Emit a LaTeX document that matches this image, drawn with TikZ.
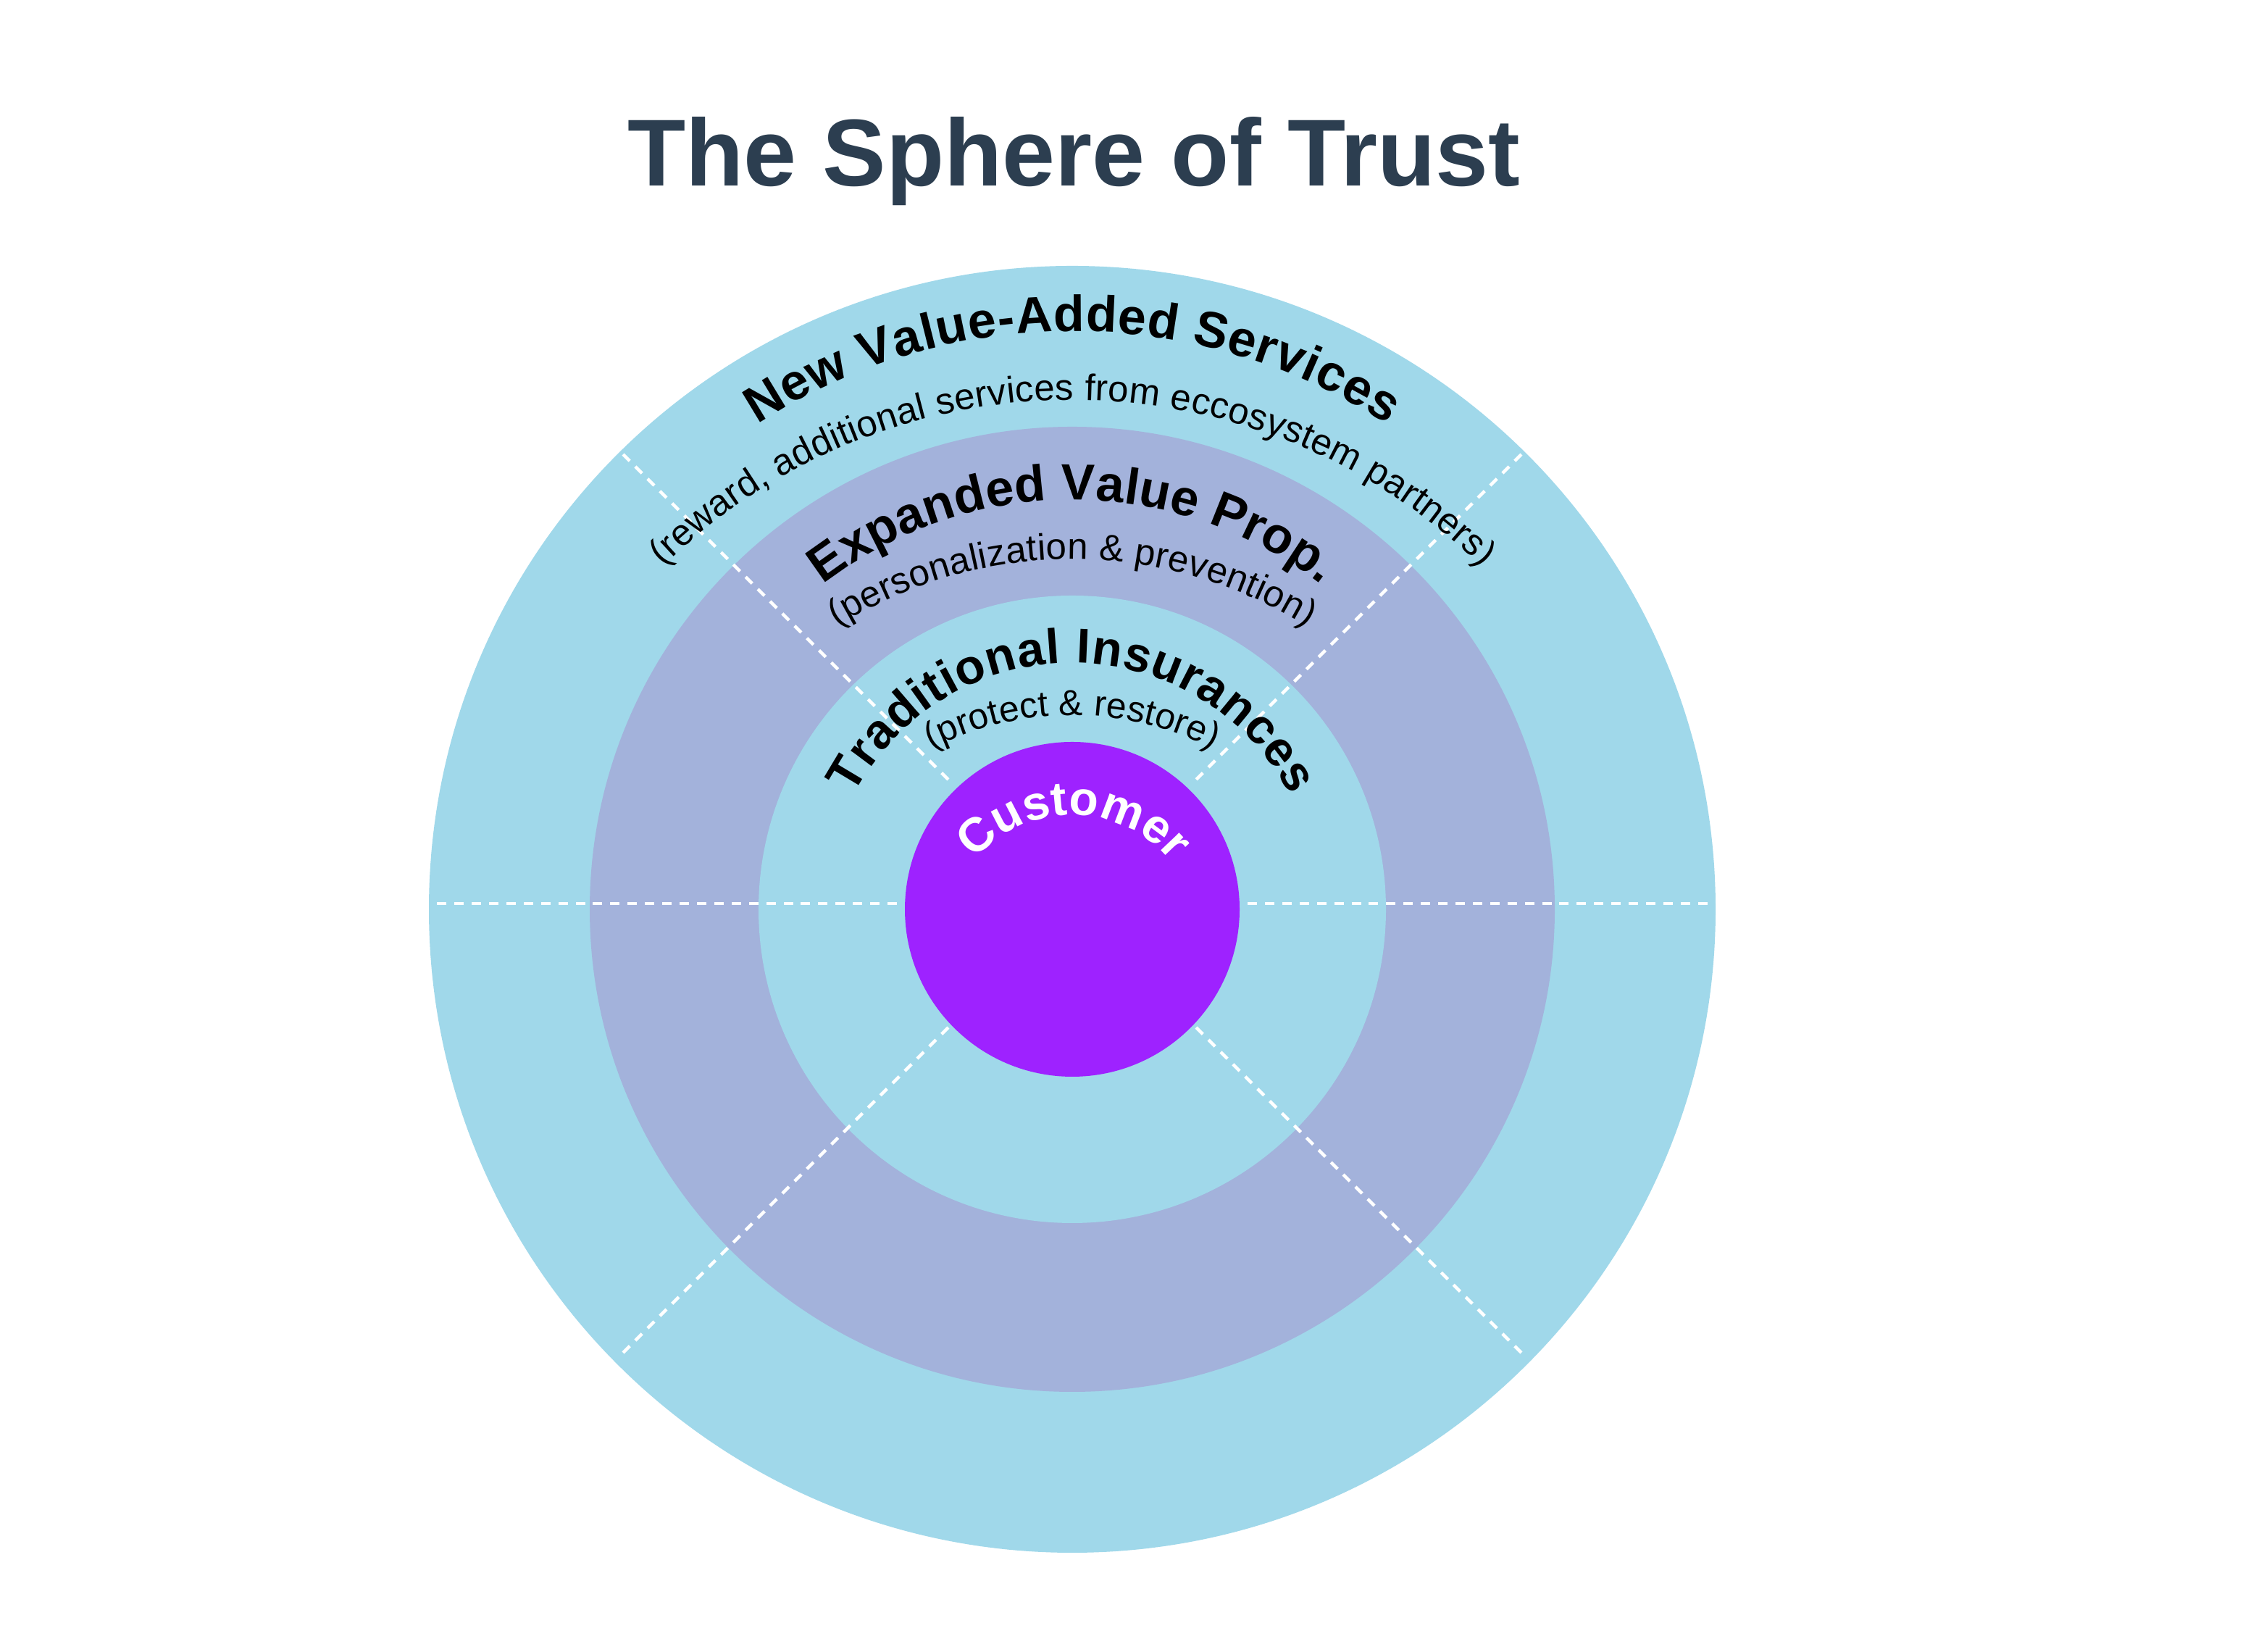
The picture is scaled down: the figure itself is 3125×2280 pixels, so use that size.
\documentclass[tikz,border=0pt]{standalone}
\usepackage{fontspec}
\setmainfont{Liberation Sans}
\usetikzlibrary{decorations.text}
\definecolor{ringblue}{HTML}{A0D8EA}
\definecolor{ringlav}{HTML}{A3B2DB}
\definecolor{corepurple}{HTML}{9E22FF}
\definecolor{titlecol}{HTML}{2C3E50}
\begin{document}
\begin{tikzpicture}[x=0.01cm, y=0.01cm,
  dashline/.style={draw=white, line width=1.28pt, dash pattern=on 3.7pt off 3.1pt},
  arctext/.style={decorate, decoration={text along path, text align={fit to path}, text={#1}}}]
\useasboundingbox (0,0) rectangle (3125,2280);
\fill[white] (0,0) rectangle (3125,2280);
% centres
\coordinate (C) at (1480,1025);
\coordinate (L) at (1480,1033);
\coordinate (C2) at (1480,919);
\coordinate (C4) at (1480,896);
\coordinate (C6) at (1480,865);
\coordinate (C7) at (1480,978);
% rings
\fill[ringblue] (C) circle[radius=888];
\fill[ringlav] (C) circle[radius=666];
\fill[ringblue] (C) circle[radius=433];
\fill[corepurple] (C) circle[radius=231];
% dashed spokes
\foreach \a in {0,45,135,180,225,315} {
  \path (L) ++(\a:242) coordinate (s\a);
  \path (L) ++(\a:884) coordinate (e\a);
  \draw[dashline] (s\a) -- (e\a);
}
% title
\node[font=\bfseries\fontsize{37.3}{45}\selectfont, text=titlecol, anchor=base] (title) at (1482,2023) {The Sphere of Trust};
% start points of the text arcs
\path (C) ++(123:798) coordinate (t1);
\path (C2) ++(134.3:809) coordinate (t2);
\path (C) ++(127.5:565) coordinate (t3);
\path (C4) ++(122:612) coordinate (t4);
\path (C) ++(152.5:340) coordinate (t5);
\path (C6) ++(117:428) coordinate (t6);
\path (C7) ++(139.3:177) coordinate (t7);
% curved texts
\path[arctext={|\bfseries\fontsize{19.9}{24}\selectfont|New Value-Added Services}]
  (t1) arc[start angle=123, end angle=57, radius=798];
\path[arctext={|\fontsize{14.5}{17}\selectfont|(reward, additional services from eccosystem partners)}]
  (t2) arc[start angle=134.3, end angle=45.7, radius=809];
\path[arctext={|\bfseries\fontsize{19.9}{24}\selectfont|Expanded Value Prop.}]
  (t3) arc[start angle=127.5, end angle=52.5, radius=565];
\path[arctext={|\fontsize{14.5}{17}\selectfont|(personalization {\&} prevention)}]
  (t4) arc[start angle=122, end angle=58, radius=612];
\path[arctext={|\bfseries\fontsize{19.2}{23}\selectfont|Traditional Insurances}]
  (t5) arc[start angle=152.5, end angle=27.5, radius=340];
\path[arctext={|\fontsize{14.2}{17}\selectfont|(protect {\&} restore)}]
  (t6) arc[start angle=117, end angle=63, radius=428];
\path[arctext={|\color{white}\bfseries\fontsize{18.8}{22}\selectfont|Customer}]
  (t7) arc[start angle=139.3, end angle=39.3, radius=177];
\end{tikzpicture}
\end{document}
